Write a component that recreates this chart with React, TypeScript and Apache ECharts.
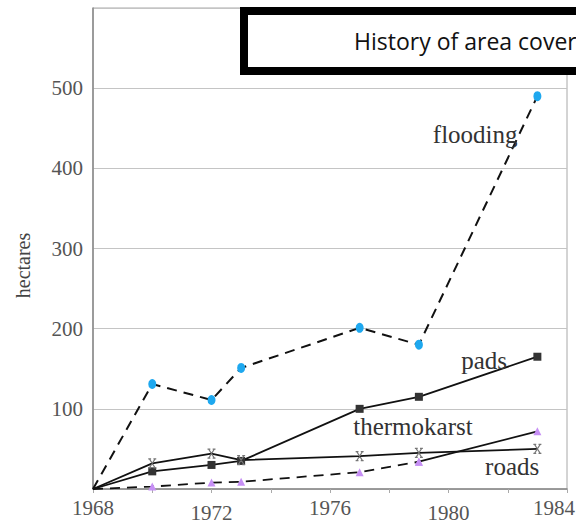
import React, { useEffect, useRef } from "react";
import * as echarts from "echarts";

const years = [1968, 1970, 1972, 1973, 1977, 1979, 1983];
const flooding = [0, 131, 111, 151, 201, 180, 490];
const pads = [0, 22, 30, 35, 100, 115, 165];
const roads = [0, 32, 44, 36, 41, 45, 50];
const thermokarst = [0, 3, 8, 9, 21, 34, 72];
const xTicks = [1968, 1972, 1976, 1980, 1984];
const yTicks = [100, 200, 300, 400, 500];

const labelPos: { name: string; x: number; y: number }[] = [
  { name: "flooding", x: 1980.9, y: 442 },
  { name: "pads", x: 1981.2, y: 160 },
  { name: "thermokarst", x: 1978.8, y: 78 },
  { name: "roads", x: 1982.15, y: 28 },
];

// first point (1968 origin) drawn without a marker
const pair = (xs: number[], ys: number[]) =>
  xs.map((x, i) => (i === 0 ? { value: [x, ys[i]], symbol: "none" } : { value: [x, ys[i]] }));

export default function App() {
  const ref = useRef<HTMLDivElement>(null);
  useEffect(() => {
    if (!ref.current) return;
    const chart = echarts.init(ref.current, null, { renderer: "svg" });
    const serif = "Liberation Serif";
    const thermoData = pair(years, thermokarst);
    const lbl = { fontFamily: serif, fontSize: 21, color: "#555" };
    chart.setOption({
      animation: false,
      backgroundColor: "#fff",
      grid: {
        left: 93,
        right: 9,
        top: 8,
        bottom: 35,
        show: true,
        borderColor: "#a8a8a8",
        borderWidth: 1,
        containLabel: false,
        outerBoundsMode: "none",
      },
      xAxis: {
        type: "value",
        min: 1968,
        max: 1984,
        interval: 4,
        axisLine: { show: true, lineStyle: { color: "#888", width: 1.5 } },
        axisTick: { show: true, length: 4, lineStyle: { color: "#aaa" } },
        minorTick: { show: true, splitNumber: 2, length: 4, lineStyle: { color: "#aaa" } },
        splitLine: { show: false },
        axisLabel: {
          margin: 8,
          ...lbl,
          formatter: (v: number) => {
            const i = xTicks.indexOf(v);
            if (i === 1 || i === 3) return `{low|${v}}`;
            if (i === xTicks.length - 1) return `{last|${v}}`;
            return `${v}`;
          },
          rich: {
            low: { ...lbl, padding: [5, 0, 0, 0] },
            last: { ...lbl, padding: [0, 26, 0, 0] },
          },
        },
      },
      yAxis: {
        type: "value",
        min: 0,
        max: 600,
        interval: 100,
        name: "hectares",
        nameLocation: "middle",
        nameGap: 60,
        nameTextStyle: { fontFamily: serif, fontSize: 20, color: "#444", padding: [0, 34, 0, 0] },
        axisLine: { show: true, lineStyle: { color: "#888", width: 1.5 } },
        axisTick: { show: false },
        splitLine: { show: true, lineStyle: { color: "#c4c4c4", width: 1 } },
        axisLabel: {
          showMinLabel: false,
          showMaxLabel: false,
          margin: 10,
          ...lbl,
          formatter: (v: number) => (yTicks.indexOf(v) >= 0 ? `${v}` : ""),
        },
      },
      series: [
        {
          name: "flooding",
          type: "line",
          data: pair(years, flooding),
          symbol: "circle",
          symbolSize: [8, 10],
          showSymbol: true,
          itemStyle: { color: "#1ea8ef" },
          lineStyle: { color: "#111", width: 2, type: [10, 7] },
          z: 3,
          markPoint: {
            symbol: "circle",
            symbolSize: 0,
            data: labelPos.map((l) => ({
              coord: [l.x, l.y],
              label: {
                show: true,
                formatter: l.name,
                fontFamily: serif,
                fontSize: 25,
                color: "#333",
                position: "inside",
              },
            })),
          },
        },
        {
          name: "pads",
          type: "line",
          data: pair(years, pads),
          symbol: "rect",
          symbolSize: 8,
          itemStyle: { color: "#333" },
          lineStyle: { color: "#111", width: 1.8 },
        },
        {
          name: "roads",
          type: "line",
          data: pair(years, roads),
          symbol: "path://M0,0L10,12M10,0L0,12M-2,0L3,0M7,0L12,0M-2,12L3,12M7,12L12,12",
          symbolSize: [8, 9],
          itemStyle: { color: "none", borderColor: "#777", borderWidth: 1.2 },
          lineStyle: { color: "#111", width: 1.8 },
        },
        {
          name: "thermokarst",
          type: "line",
          data: thermoData.slice(0, 6),
          symbol: "triangle",
          symbolSize: 8,
          itemStyle: { color: "#c68ff5" },
          lineStyle: { color: "#111", width: 1.8, type: [10, 7] },
        },
        {
          name: "thermokarst-end",
          type: "line",
          data: thermoData.slice(5),
          symbol: "triangle",
          symbolSize: 8,
          itemStyle: { color: "#c68ff5" },
          lineStyle: { color: "#111", width: 1.8 },
        },
      ],
      graphic: [
        {
          type: "rect",
          shape: { x: 244, y: 11, width: 340, height: 60 },
          style: { fill: "#fff", stroke: "#000", lineWidth: 8 },
          z: 100,
        },
        {
          type: "text",
          x: 354,
          y: 41,
          style: {
            text: "History of area cover",
            fontFamily: "Open Sans",
            fontSize: 23,
            fill: "#111",
            textVerticalAlign: "middle",
          },
          z: 101,
        },
      ],
    });
    return () => chart.dispose();
  }, []);
  return (
    <div
      ref={ref}
      style={{ position: "absolute", left: 0, top: 0, width: 576, height: 524 }}
    />
  );
}
